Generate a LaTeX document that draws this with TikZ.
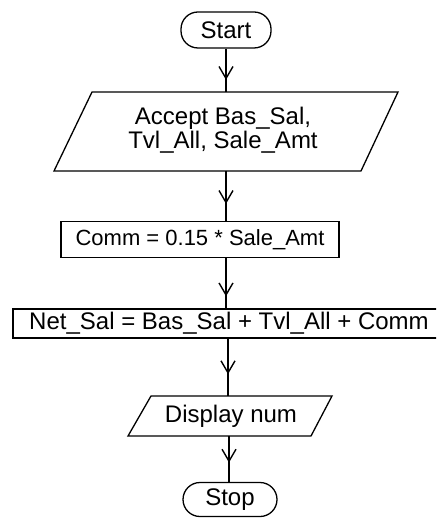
\documentclass[tikz,border=0pt]{standalone}
\usepackage{fontspec}
\setmainfont{Liberation Sans}
\usetikzlibrary{arrows.meta,decorations.markings}

\tikzset{
  lbl/.style={font=\fontsize{24}{24.5}\selectfont, align=center, inner sep=0pt},
  term/.style={lbl, draw, line width=1.3pt, rounded corners=17pt, inner sep=0pt},
  proc/.style={lbl, draw, line width=1.3pt},
  io/.style={draw, line width=1.3pt, line join=miter},
  flow/.style={draw, line width=1.3pt, decoration={markings,
      mark=at position #1 with {\arrow{Straight Barb[length=12pt,width=14pt,line width=1.4pt]}}},
      postaction={decorate}},
  flow/.default=0.68
}

\begin{document}
\begin{tikzpicture}[x=1pt,y=-1pt]
  \clip (0,0) rectangle (436,518);

  % terminals
  \node[term, minimum width=90pt, minimum height=36pt] (start) at (226,30) {Start};
  \node[term, minimum width=94pt, minimum height=34pt] (stop) at (230,499.5) {Stop};

  % input parallelogram
  \draw[io] (92,92) -- (398,92) -- (361,171) -- (54,171) -- cycle;
  \node[lbl] (acc) at (223,130) {Accept Bas\_Sal,\\Tvl\_All, Sale\_Amt};
  \coordinate (accT) at (226,92);
  \coordinate (accB) at (226,171);

  % processes
  \node[proc, minimum width=278pt, minimum height=36pt,
        font=\fontsize{22}{24}\selectfont] (comm) at (200,239.5) {Comm = 0.15 * Sale\_Amt};
  \node[proc, minimum width=432pt, minimum height=29pt] (net) at (229,323.5) {Net\_Sal = Bas\_Sal + Tvl\_All + Comm};

  % output parallelogram
  \draw[io] (151,396) -- (332,396) -- (311,436) -- (128,436) -- cycle;
  \node[lbl] (disp) at (231,416) {Display num};
  \coordinate (dispT) at (228,396);
  \coordinate (dispB) at (229,436);

  % connectors
  \draw[flow=0.72] (start.south -| accT) -- (accT);
  \draw[flow=0.66] (accB) -- (accB |- comm.north);
  \draw[flow=0.76] (accB |- comm.south) -- (accB |- net.north);
  \draw[flow=0.62] (dispT |- net.south) -- (dispT);
  \draw[flow=0.58] (dispB) -- (dispB |- stop.north);
\end{tikzpicture}
\end{document}
